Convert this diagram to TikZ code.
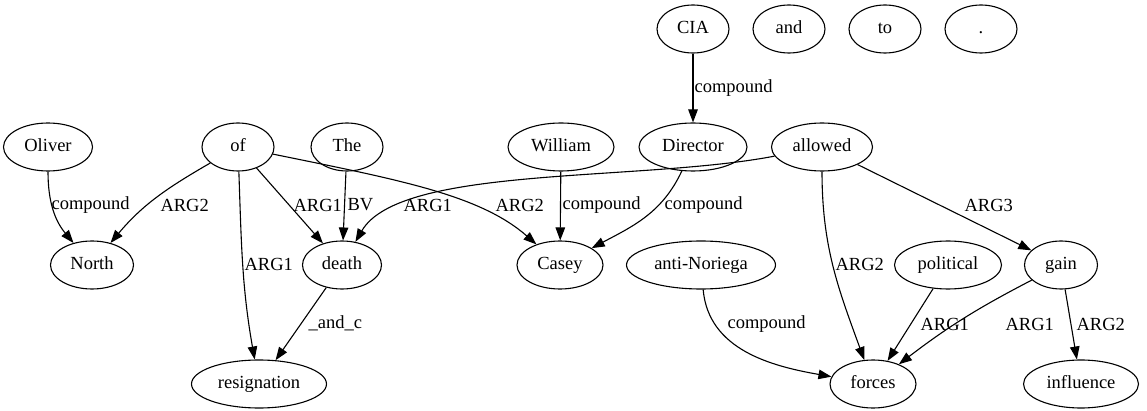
\documentclass[tikz,border=0pt]{standalone}
\usepackage{fontspec}
\setmainfont{Liberation Serif}
\usetikzlibrary{arrows.meta,shapes.geometric}
\tikzset{
    vertex/.style={ellipse,draw,line width=1.1pt,inner sep=0pt,minimum height=48pt,minimum width=72pt,text height=13pt,text depth=4pt,font=\fontsize{18.5}{22}\selectfont},
    lbl/.style={anchor=west,inner sep=0pt,font=\fontsize{18.5}{22}\selectfont},
    pre/.style={-{Triangle[length=13pt,width=9.5pt]},line width=1.1pt}
}
\begin{document}
\begin{tikzpicture}[x=1pt,y=-1pt]
\useasboundingbox (0,0) rectangle (1147,411);

% top row
\node[vertex] (cia) at (693,29) {CIA};
\node[vertex] (and) at (789,29) {and};
\node[vertex] (to)  at (885,29) {to};
\node[vertex] (dot) at (981,29) {.};

% second row
\node[vertex,minimum width=89pt]  (oliver)   at (48,147)  {Oliver};
\node[vertex]                     (of)       at (238,147) {of};
\node[vertex]                     (the)      at (347,147) {The};
\node[vertex,minimum width=106pt] (william)  at (561,147) {William};
\node[vertex,minimum width=108pt] (director) at (693,147) {Director};
\node[vertex,minimum width=101pt] (allowed)  at (822,147) {allowed};

% third row
\node[vertex,minimum width=83pt]  (north)     at (92,265)   {North};
\node[vertex,minimum width=79pt]  (death)     at (342,265)  {death};
\node[vertex,minimum width=86pt]  (casey)     at (560,265)  {Casey};
\node[vertex,minimum width=149pt] (noriega)   at (701,265)  {anti-Noriega};
\node[vertex,minimum width=107pt] (political) at (948,265)  {political};
\node[vertex,minimum width=73pt]  (gain)      at (1061,265) {gain};

% bottom row
\node[vertex,minimum width=135pt] (resignation) at (259,384)  {resignation};
\node[vertex,minimum width=86pt]  (forces)      at (873,384)  {forces};
\node[vertex,minimum width=115pt] (influence)   at (1081,384) {influence};

% edges
\draw[pre] (cia) -- (director) node[lbl] at (694,88) {compound};
\draw[pre] (oliver) to[out=-90,in=130] (north) node[lbl] at (51,205) {compound};
\draw[pre] (of) to[out=-150,in=50] (north) node[lbl] at (160,205) {ARG2};
\draw[pre] (of) -- (death) node[lbl] at (293,205) {ARG1};
\draw[pre] (the) -- (death) node[lbl] at (347,205) {BV};
\draw[pre] (allowed) .. controls (640,182) and (400,165) .. (death) node[lbl] at (403,205) {ARG1};
\draw[pre] (of) .. controls (400,180) and (480,195) .. (casey) node[lbl] at (495,205) {ARG2};
\draw[pre] (william) -- (casey) node[lbl] at (562,205) {compound};
\draw[pre] (director) to[out=-115,in=28] (casey) node[lbl] at (664,205) {compound};
\draw[pre] (allowed) to[out=-90,in=110] (forces) node[lbl] at (835,264) {ARG2};
\draw[pre] (allowed) -- (gain) node[lbl] at (964,205) {ARG3};
\draw[pre] (of) to[out=-88,in=100] (resignation) node[lbl] at (244,264) {ARG1};
\draw[pre] (death) -- (resignation) node[lbl] at (308,323) {\_and\_c};
\draw[pre] (noriega) to[out=-85,in=170] (forces) node[lbl] at (727,324) {compound};
\draw[pre] (political) -- (forces) node[lbl] at (920,324) {ARG1};
\draw[pre] (gain) to[bend right=5] (forces) node[lbl] at (1005,324) {ARG1};
\draw[pre] (gain) -- (influence) node[lbl] at (1076,324) {ARG2};

\end{tikzpicture}
\end{document}
